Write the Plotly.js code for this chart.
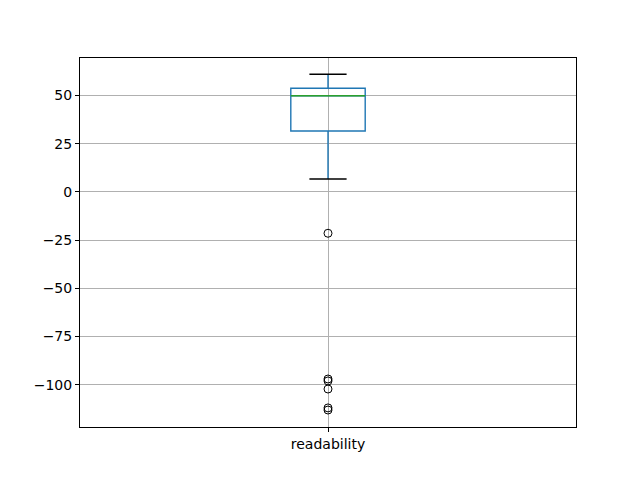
<!DOCTYPE html>
<html>
<head>
<meta charset="utf-8">
<script src="https://cdn.plot.ly/plotly-3.0.1.min.js"></script>
<style>html,body{margin:0;padding:0;background:#fff;}</style>
</head>
<body>
<div id="chart" style="width:640px;height:480px;"></div>
<script>
const categories = ['readability'];
const q1 = [31.6];
const median = [49.9];
const q3 = [53.8];
const lowerWhisker = [6.7];
const upperWhisker = [61.1];
const outliers = [-21.4, -97.0, -98.0, -102.2, -112.0, -113.1];

const pos = 1, boxW = 0.15, capW = 0.075;

const traces = [
  {
    type: 'box', x: [pos], q1: q1, median: median, q3: q3,
    lowerfence: lowerWhisker, upperfence: upperWhisker,
    width: boxW, whiskerwidth: 0, boxpoints: false,
    line: {color: '#1f77b4', width: 1.4}, fillcolor: 'rgba(0,0,0,0)',
    hoverinfo: 'skip', showlegend: false
  },
  {
    type: 'scatter', mode: 'lines', x: [pos - boxW/2, pos + boxW/2], y: [median[0], median[0]],
    line: {color: '#2ca02c', width: 1.4}, showlegend: false, hoverinfo: 'skip'
  },
  {
    type: 'scatter', mode: 'lines',
    x: [pos - capW/2, pos + capW/2, null, pos - capW/2, pos + capW/2],
    y: [upperWhisker[0], upperWhisker[0], null, lowerWhisker[0], lowerWhisker[0]],
    line: {color: '#000000', width: 1.4}, showlegend: false, hoverinfo: 'skip'
  },
  {
    type: 'scatter', mode: 'markers', x: outliers.map(() => pos), y: outliers,
    marker: {symbol: 'circle-open', size: 8, color: '#000000', line: {width: 1}},
    showlegend: false, hoverinfo: 'skip'
  }
];

const layout = {
  width: 640, height: 480,
  margin: {l: 80, r: 64, t: 58, b: 53},
  paper_bgcolor: '#ffffff', plot_bgcolor: '#ffffff',
  font: {family: 'DejaVu Sans', size: 14, color: '#000000'},
  showlegend: false,
  xaxis: {
    range: [0.5, 1.5], tickmode: 'array', tickvals: [pos], ticktext: categories,
    showgrid: true, gridcolor: '#b0b0b0', gridwidth: 1,
    zeroline: false, showline: true, mirror: true, linecolor: '#000000', linewidth: 1,
    ticks: 'outside', ticklen: 4, tickcolor: '#000000'
  },
  yaxis: {
    range: [-121.9, 69.5], tickmode: 'linear', tick0: 0, dtick: 25,
    showgrid: true, gridcolor: '#b0b0b0', gridwidth: 1,
    zeroline: false, showline: true, mirror: true, linecolor: '#000000', linewidth: 1,
    ticks: 'outside', ticklen: 4, tickcolor: '#000000'
  }
};

Plotly.newPlot('chart', traces, layout, {displayModeBar: false, staticPlot: true});
</script>
</body>
</html>
